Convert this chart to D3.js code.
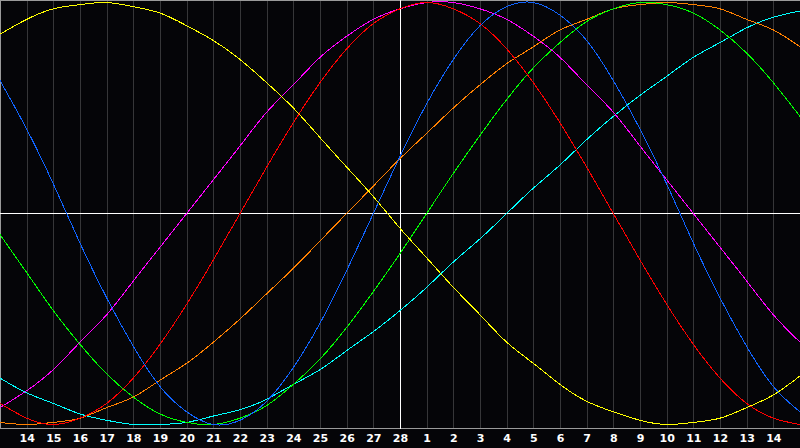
<!DOCTYPE html>
<html>
<head>
<meta charset="utf-8">
<script src="https://cdn.jsdelivr.net/npm/d3@7"></script>
<style>
  html, body { margin: 0; padding: 0; background: #050508; }
  svg { display: block; }
</style>
</head>
<body>
<svg id="chart" width="800" height="448"></svg>
<script>
// Day labels at each grid line (Feb 14 .. Feb 28, Mar 1 .. Mar 14)
const dayLabels = ["14","15","16","17","18","19","20","21","22","23","24","25","26","27","28",
                   "1","2","3","4","5","6","7","8","9","10","11","12","13","14"];
const todayIndex = 15; // the "28" column, marked by the white vertical line

// Cycle values, one per grid column 0..30
const physical = [0.63,0.40,0.14,-0.14,-0.40,-0.63,-0.82,-0.94,-1.00,-0.98,-0.89,-0.73,-0.52,-0.27,0.00,0.27,0.52,0.73,0.89,0.98,1.00,0.94,0.82,0.63,0.40,0.14,-0.14,-0.40,-0.63,-0.82,-0.94];
const emotional = [-0.90,-0.97,-1.00,-0.97,-0.90,-0.78,-0.62,-0.43,-0.22,0.00,0.22,0.43,0.62,0.78,0.90,0.97,1.00,0.97,0.90,0.78,0.62,0.43,0.22,0.00,-0.22,-0.43,-0.62,-0.78,-0.90,-0.97,-1.00];
const intellectual = [-0.10,-0.28,-0.46,-0.62,-0.76,-0.87,-0.95,-0.99,-1.00,-0.97,-0.91,-0.81,-0.69,-0.54,-0.37,-0.19,0.00,0.19,0.37,0.54,0.69,0.81,0.91,0.97,1.00,0.99,0.95,0.87,0.76,0.62,0.46];
const intuitive = [-0.92,-0.84,-0.74,-0.61,-0.48,-0.32,-0.16,0.00,0.16,0.32,0.48,0.61,0.74,0.84,0.92,0.97,1.00,1.00,0.97,0.92,0.84,0.74,0.61,0.48,0.32,0.16,0.00,-0.16,-0.32,-0.48,-0.61];
const aesthetic = [0.85,0.92,0.97,0.99,1.00,0.98,0.95,0.89,0.82,0.73,0.62,0.50,0.36,0.22,0.08,-0.07,-0.21,-0.35,-0.48,-0.61,-0.71,-0.81,-0.89,-0.94,-0.98,-1.00,-0.99,-0.97,-0.92,-0.86,-0.77];
const awareness = [-0.99,-1.00,-0.99,-0.97,-0.92,-0.87,-0.79,-0.71,-0.61,-0.50,-0.38,-0.26,-0.13,0.00,0.13,0.26,0.38,0.50,0.61,0.71,0.79,0.87,0.92,0.97,0.99,1.00,0.99,0.97,0.92,0.87,0.79];
const spiritual = [-0.78,-0.85,-0.90,-0.95,-0.98,-1.00,-1.00,-0.99,-0.96,-0.93,-0.88,-0.81,-0.74,-0.65,-0.56,-0.46,-0.35,-0.23,-0.12,0.00,0.12,0.23,0.35,0.46,0.56,0.65,0.74,0.81,0.88,0.93,0.96];

const seriesNames = ["spiritual","awareness","intellectual","intuitive","emotional","physical","aesthetic"];
const seriesValues = [spiritual, awareness, intellectual, intuitive, emotional, physical, aesthetic];
const seriesColors = ["#00ffff","#ff8000","#00ff00","#ff00ff","#ff0000","#1064ff","#ffff00"];

const W = 800, H = 448;
const svg = d3.select("#chart");

const x = d3.scaleLinear().domain([0, 30]).range([0, W]);
const y = d3.scaleLinear().domain([-1, 1]).range([424.5, 2.5]);
const axisY = 428.5;

svg.append("rect").attr("width", W).attr("height", H).attr("fill", "#050508");

// vertical grid
const gridIdx = d3.range(1, 30);
svg.append("g").selectAll("line").data(gridIdx).join("line")
  .attr("x1", d => Math.round(x(d)) + 0.5).attr("x2", d => Math.round(x(d)) + 0.5)
  .attr("y1", 0).attr("y2", axisY)
  .attr("stroke", "#363638").attr("stroke-width", 1)
  .attr("shape-rendering", "crispEdges");

// frame: top, left, bottom axis
const frame = svg.append("g").attr("stroke", "#9a9a9a").attr("shape-rendering", "crispEdges");
frame.append("line").attr("x1", 0).attr("x2", W).attr("y1", 0.5).attr("y2", 0.5);
frame.append("line").attr("x1", 0.5).attr("x2", 0.5).attr("y1", 0).attr("y2", axisY);
frame.append("line").attr("x1", 0).attr("x2", W).attr("y1", axisY).attr("y2", axisY);

// white cross: today and zero line
svg.append("line")
  .attr("x1", Math.round(x(todayIndex)) + 0.5).attr("x2", Math.round(x(todayIndex)) + 0.5)
  .attr("y1", 0).attr("y2", axisY)
  .attr("stroke", "#ffffff").attr("shape-rendering", "crispEdges");
svg.append("line")
  .attr("x1", 0).attr("x2", W)
  .attr("y1", Math.floor(y(0)) + 0.5).attr("y2", Math.floor(y(0)) + 0.5)
  .attr("stroke", "#ffffff").attr("shape-rendering", "crispEdges");

// curves
const line = d3.line().x((d, i) => x(i)).y(d => y(d)).curve(d3.curveNatural);
svg.append("g").selectAll("path").data(seriesValues).join("path")
  .attr("d", d => line(d))
  .attr("fill", "none")
  .attr("stroke", (d, i) => seriesColors[i])
  .attr("stroke-width", 1)
  .attr("shape-rendering", "crispEdges");

// day labels
const xAxis = d3.axisBottom(x)
  .tickValues(gridIdx)
  .tickFormat(d => dayLabels[d - 1])
  .tickSize(0).tickPadding(0);
const ag = svg.append("g").attr("transform", `translate(0,${434})`).call(xAxis);
ag.select(".domain").remove();
ag.selectAll("text")
  .attr("fill", "#ffffff")
  .attr("dy", "0.71em")
  .style("font-family", "'DejaVu Sans', Verdana, sans-serif")
  .style("font-weight", "bold")
  .style("font-size", "11px");
</script>
</body>
</html>
